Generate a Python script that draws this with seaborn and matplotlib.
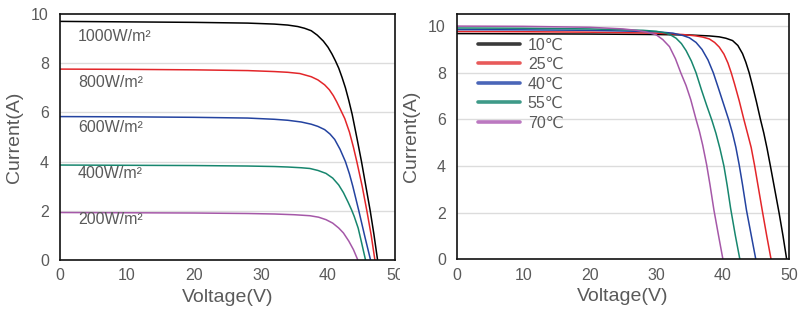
import numpy as np
import pandas as pd
import matplotlib
matplotlib.use("Agg")
import matplotlib.pyplot as plt
from matplotlib.lines import Line2D
from matplotlib.patches import Rectangle
import seaborn as sns

# ---------------- data: irradiance panel ----------------
irr_labels = ["1000W/m²", "800W/m²", "600W/m²", "400W/m²", "200W/m²"]
irr_colors = ["#000000", "#e3262a", "#2443a0", "#17866e", "#a558a8"]

v_1000 = [0, 10, 20, 28, 32, 34, 35.5, 36.5, 37.5, 38.4, 39.3, 40.0, 40.6, 41.1, 41.6, 42.1, 42.6, 43.1, 43.6, 44.3, 45.0, 45.65, 46.3, 46.85, 47.4]
i_1000 = [9.70, 9.68, 9.66, 9.63, 9.59, 9.55, 9.49, 9.42, 9.32, 9.14, 8.90, 8.65, 8.37, 8.10, 7.80, 7.42, 7.00, 6.49, 5.93, 4.98, 4.0, 3.0, 2.0, 1.05, 0]
v_800 = [0, 10, 20, 28, 32, 34, 35.8, 37.5, 38.5, 39.5, 40.2, 40.8, 41.3, 41.8, 42.5, 43.2, 43.8, 44.3, 45.1, 45.8, 46.45, 47.0]
i_800 = [7.76, 7.75, 7.73, 7.70, 7.66, 7.63, 7.58, 7.45, 7.32, 7.12, 6.92, 6.68, 6.43, 6.15, 5.75, 5.20, 4.58, 4.0, 3.0, 2.0, 1.0, 0]
v_600 = [0, 10, 20, 28, 32, 34, 36, 37.5, 38.5, 39.5, 40.3, 41.0, 41.8, 42.6, 43.2, 43.7, 44.6, 45.5, 46.35]
i_600 = [5.83, 5.82, 5.80, 5.77, 5.72, 5.68, 5.61, 5.52, 5.43, 5.30, 5.12, 4.90, 4.50, 4.0, 3.5, 3.0, 2.0, 0.95, 0]
v_400 = [0, 10, 20, 28, 32, 34, 36, 37.3, 38.5, 39.7, 40.7, 41.6, 42.3, 43.0, 43.5, 43.9, 44.5, 45.0, 45.6]
i_400 = [3.86, 3.85, 3.84, 3.82, 3.80, 3.78, 3.75, 3.72, 3.64, 3.52, 3.33, 3.05, 2.74, 2.35, 2.05, 1.78, 1.30, 0.72, 0]
v_200 = [0, 10, 20, 28, 32, 35, 37.3, 38.6, 39.7, 40.7, 41.6, 42.3, 43.1, 43.8, 44.45]
i_200 = [1.93, 1.92, 1.91, 1.89, 1.87, 1.84, 1.80, 1.74, 1.64, 1.50, 1.30, 1.10, 0.77, 0.42, 0]
irr_label_y = [9.1, 7.2, 5.37, 3.5, 1.63]

# ---------------- data: temperature panel ----------------
temp_labels = ["10℃", "25℃", "40℃", "55℃", "70℃"]
temp_colors = ["#000000", "#e3262a", "#2443a0", "#17866e", "#a558a8"]
legend_colors = ["#3a3a3a", "#e85a5a", "#4a66b8", "#3e9a88", "#bb78c0"]

v_10 = [0, 10, 20, 30, 35, 38, 39.5, 40.5, 41.5, 42.3, 43.0, 43.5, 44.0, 44.5, 45.1, 45.7, 46.2, 46.7, 47.2, 47.85, 48.5, 49.1, 49.65]
i_10 = [9.68, 9.67, 9.66, 9.64, 9.62, 9.58, 9.54, 9.48, 9.38, 9.17, 8.82, 8.45, 8.0, 7.45, 6.75, 6.0, 5.42, 4.75, 4.0, 3.0, 2.0, 1.0, 0]
v_25 = [0, 10, 20, 30, 34, 36, 37, 38, 38.8, 39.5, 40.2, 40.8, 41.3, 41.8, 42.5, 43.2, 43.8, 44.3, 44.8, 45.4, 46.0, 46.65, 47.3]
i_25 = [9.77, 9.76, 9.74, 9.70, 9.64, 9.58, 9.53, 9.45, 9.30, 9.10, 8.80, 8.42, 8.0, 7.52, 6.80, 6.0, 5.35, 4.8, 4.05, 3.05, 2.05, 1.0, 0]
v_40 = [0, 10, 20, 30, 32.5, 34, 35.0, 36.0, 36.9, 37.8, 38.6, 39.3, 40.1, 40.9, 41.5, 42.0, 42.5, 43.0, 43.6, 44.3, 45.0]
i_40 = [9.85, 9.84, 9.82, 9.76, 9.70, 9.60, 9.50, 9.30, 9.00, 8.55, 8.0, 7.4, 6.7, 6.0, 5.4, 4.8, 4.05, 3.2, 2.1, 1.05, 0]
v_55 = [0, 10, 20, 28, 30, 31.5, 32.3, 33.0, 33.8, 34.5, 35.3, 36.0, 36.8, 37.6, 38.4, 39.0, 39.6, 40.2, 40.7, 41.2, 41.9, 42.6]
i_55 = [9.92, 9.91, 9.88, 9.82, 9.78, 9.70, 9.60, 9.48, 9.25, 8.95, 8.50, 8.0, 7.28, 6.6, 5.95, 5.4, 4.75, 4.0, 3.15, 2.2, 1.05, 0]
v_70 = [0, 10, 20, 25, 27, 28.5, 30, 31, 32, 32.9, 33.7, 34.5, 35.2, 36.0, 36.5, 37.0, 37.6, 38.1, 38.7, 39.4, 40.05]
i_70 = [10.0, 9.99, 9.95, 9.88, 9.82, 9.75, 9.63, 9.42, 9.12, 8.6, 8.0, 7.45, 6.85, 6.0, 5.5, 4.9, 4.05, 3.2, 2.1, 1.0, 0]

x_ticks = [0, 10, 20, 30, 40, 50]
y_ticks = [0, 2, 4, 6, 8, 10]

# ---------------- build frames ----------------
def frame(vs, is_, labels):
    rows = []
    for v, i, lab in zip(vs, is_, labels):
        rows.append(pd.DataFrame({"V": v, "I": i, "series": lab}))
    return pd.concat(rows, ignore_index=True)

df_irr = frame([v_1000, v_800, v_600, v_400, v_200], [i_1000, i_800, i_600, i_400, i_200], irr_labels)
df_temp = frame([v_10, v_25, v_40, v_55, v_70], [i_10, i_25, i_40, i_55, i_70], temp_labels)

# ---------------- style ----------------
sns.set_theme(style="white")
plt.rcParams["font.family"] = ["Liberation Sans", "DejaVu Sans"]
text_gray = "#5a5a5a"

fig = plt.figure(figsize=(8.0, 3.24), dpi=100)
ax1 = fig.add_axes([60 / 800, 64 / 324, 335 / 800, 246 / 324])
ax2 = fig.add_axes([457 / 800, 64.7 / 324, 332 / 800, 245.3 / 324])
ax2.set_zorder(2)

# white cover clipping the left panel's last tick label, as in the reference
fig.patches.append(Rectangle((400 / 800, 0), 400 / 800, 1, transform=fig.transFigure,
                             facecolor="white", edgecolor="none", zorder=1))

sns.lineplot(data=df_irr, x="V", y="I", hue="series", palette=irr_colors,
             hue_order=irr_labels, sort=False, estimator=None, units="series",
             linewidth=1.1, legend=False, ax=ax1)
sns.lineplot(data=df_temp, x="V", y="I", hue="series", palette=temp_colors,
             hue_order=temp_labels, sort=False, estimator=None, units="series",
             linewidth=1.1, legend=False, ax=ax2)
for ax in (ax1, ax2):
    for ln in ax.get_lines():
        ln.set_solid_joinstyle("round")

for ax, ymax, grid_vals in [(ax1, 10, [2, 4, 6, 8]), (ax2, 10.52, [2, 4, 6, 8, 10])]:
    ax.set_xlim(0, 50)
    ax.set_ylim(0, ymax)
    ax.set_xticks(x_ticks)
    ax.set_yticks(y_ticks)
    for g in grid_vals:
        ax.axhline(g, color="#dcdcdc", linewidth=1.0, zorder=0)
    for s in ax.spines.values():
        s.set_color("#111111")
        s.set_linewidth(1.2)
    ax.tick_params(axis="x", direction="in", length=4, width=1, color="#111111",
                   labelsize=11.5, labelcolor=text_gray, pad=6)
    ax.tick_params(axis="y", length=0, labelsize=11.5, labelcolor=text_gray, pad=8)
    ax.set_xlabel("Voltage(V)", fontsize=14, color=text_gray, labelpad=4)
    ax.set_ylabel("Current(A)", fontsize=14, color=text_gray, labelpad=6)

for lab, y in zip(irr_labels, irr_label_y):
    ax1.text(2.7, y, lab, fontsize=11.5, color=text_gray, va="center", ha="left")

handles = [Line2D([0], [0], color=c, linewidth=2.6) for c in legend_colors]
leg = ax2.legend(handles, temp_labels, loc="upper left", bbox_to_anchor=(0.045, 0.93),
                 frameon=False, fontsize=11.5, handlelength=2.6, handletextpad=0.5,
                 labelspacing=0.28, borderaxespad=0)
for t in leg.get_texts():
    t.set_color(text_gray)

fig.savefig("out.png", dpi=100, facecolor="white")
